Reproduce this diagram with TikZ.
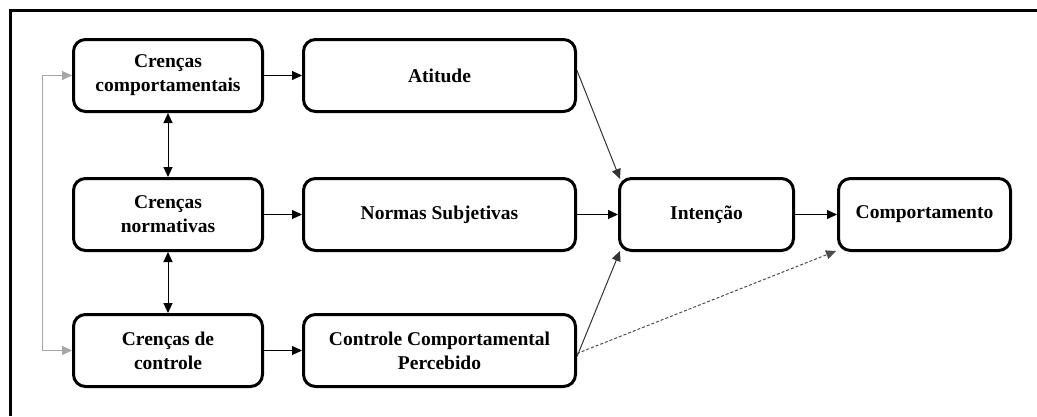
\documentclass[tikz,border=0pt]{standalone}
\usepackage{fontspec}
\setmainfont{Liberation Serif}
\usetikzlibrary{arrows.meta}
\begin{document}
\begin{tikzpicture}[x=1pt,y=-1pt,
  box/.style={draw=black,line width=3pt,rounded corners=12pt,align=center,
    font=\fontsize{19.5}{24}\selectfont\bfseries,inner sep=0pt},
  wbox/.style={box,minimum width=189pt,minimum height=72pt},
  mbox/.style={box,minimum width=272pt,minimum height=72pt},
  con/.style={line width=1pt,-{Triangle[length=10pt,width=9pt]}},
  bicon/.style={line width=1pt,{Triangle[length=10pt,width=9pt]}-{Triangle[length=10pt,width=9pt]}}]
\useasboundingbox (0,0) rectangle (1037,416);
\fill[white] (0,0) rectangle (1037,416);
% outer frame (left and top edges)
\draw[line width=3pt] (10,416) -- (10,10) -- (1037,10);

\node[wbox] (cc)  at (168,75.5)  {Crenças\\comportamentais};
\node[wbox] (cn)  at (168,214.5) {Crenças\\normativas};
\node[wbox] (cco) at (168,350.5) {Crenças de\\controle};
\node[mbox] (att) at (439.5,75.5)  {Atitude};
\node[mbox] (ns)  at (439.5,214.5) {Normas Subjetivas};
\node[mbox] (ccp) at (439.5,350.5) {Controle Comportamental\\Percebido};
\node[box,minimum width=174pt,minimum height=72pt] (int)  at (706.5,214.5) {Intenção};
\node[box,minimum width=172pt,minimum height=72pt] (comp) at (924.5,214.5) {Comportamento};

% left feedback loop
\draw[bicon,draw=gray!70] (cc.west) -- ++(-30,0) |- (cco.west);
% belief -> construct
\draw[con] (cc) -- (att);
\draw[con] (cn) -- (ns);
\draw[con] (cco) -- (ccp);
% belief <-> belief
\draw[bicon] (cc) -- (cn);
\draw[bicon] (cn) -- (cco);
% construct -> intention
\draw[con,draw=black!80] ([yshift=5pt]att.east) -- ([xshift=2pt,yshift=-2pt]int.north west);
\draw[con] (ns) -- (int);
\draw[con,draw=black!80] ([yshift=-6pt]ccp.east) -- ([xshift=2pt,yshift=1pt]int.south west);
\draw[con] (int) -- (comp);
\draw[con,draw=black!70,dash pattern=on 3pt off 2pt] ([yshift=-3pt]ccp.east) -- ([xshift=-1pt,yshift=1pt]comp.south west);
\end{tikzpicture}
\end{document}
